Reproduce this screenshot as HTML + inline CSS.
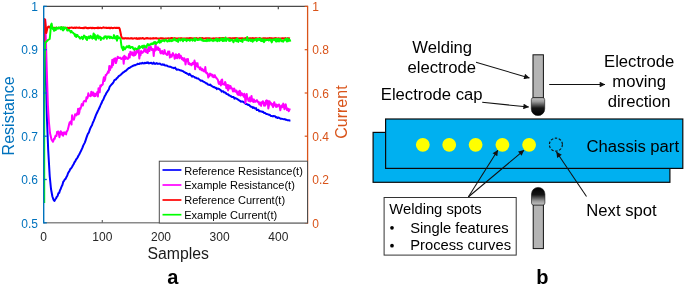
<!DOCTYPE html>
<html><head><meta charset="utf-8"><title>figure</title>
<style>html,body{margin:0;padding:0;background:#fff}body{width:685px;height:288px;position:relative;overflow:hidden;font-family:"Liberation Sans",sans-serif}</style></head>
<body>
<svg width="685" height="288" viewBox="0 0 685 288" style="position:absolute;left:0;top:0;will-change:transform;font-family:'Liberation Sans',sans-serif">
<rect width="685" height="288" fill="#fff"/>
<g fill="none" stroke-linejoin="round" stroke-linecap="butt" stroke-width="2">
<path d="M44.6,19.0 L45.3,60.0 L46.2,90.0 L47.0,120.0 L48.2,150.0 L49.7,176.0 L51.0,189.0 L52.4,196.5 L53.5,199.6 L54.4,200.9 L55.2,199.5 L56.0,198.5 L56.8,196.8 L57.6,195.9 L58.4,193.2 L59.2,192.9 L60.0,190.2 L60.8,188.7 L61.6,186.5 L62.4,185.1 L63.2,181.9 L64.0,180.8 L64.8,179.4 L65.6,178.9 L66.4,177.1 L67.2,175.7 L68.0,173.3 L68.8,171.9 L69.6,170.7 L70.4,168.8 L71.2,168.3 L72.0,167.0 L72.8,165.5 L73.6,164.3 L74.4,162.4 L75.2,161.3 L76.0,159.7 L76.8,158.6 L77.6,157.5 L78.4,155.8 L79.2,154.5 L80.0,152.9 L80.8,151.3 L81.6,149.6 L82.4,147.9 L83.2,145.6 L84.0,144.1 L84.8,142.6 L85.6,140.3 L86.4,137.9 L87.2,135.7 L88.0,133.7 L88.8,132.7 L89.6,130.2 L90.4,128.1 L91.2,126.5 L92.0,125.3 L92.8,122.8 L93.6,121.1 L94.4,119.2 L95.2,117.1 L96.0,114.9 L96.8,113.3 L97.6,111.5 L98.4,109.9 L99.2,108.2 L100.0,106.5 L100.8,104.5 L101.6,103.1 L102.4,100.8 L103.2,99.8 L104.0,97.9 L104.8,96.0 L105.6,94.7 L106.4,93.0 L107.2,91.9 L108.0,90.6 L108.8,89.5 L109.6,87.0 L110.4,85.8 L111.2,84.9 L112.0,84.0 L112.8,83.2 L113.6,81.9 L114.4,80.1 L115.2,79.8 L116.0,79.3 L116.8,78.2 L117.6,77.6 L118.4,76.5 L119.2,75.8 L120.0,75.3 L120.8,74.7 L121.6,73.9 L122.4,73.3 L123.2,72.3 L124.0,72.1 L124.8,71.3 L125.6,71.0 L126.4,70.4 L127.2,69.4 L128.0,68.7 L128.8,68.0 L129.6,67.9 L130.4,67.3 L131.2,66.7 L132.0,66.4 L132.8,65.8 L133.6,65.8 L134.4,65.1 L135.2,65.3 L136.0,64.7 L136.8,64.6 L137.6,63.8 L138.4,64.0 L139.2,64.0 L140.0,63.3 L140.8,63.4 L141.6,63.4 L142.4,62.8 L143.2,63.3 L144.0,63.4 L144.8,62.8 L145.6,63.2 L146.4,62.6 L147.2,63.0 L148.0,62.4 L148.8,63.4 L149.6,63.2 L150.4,63.0 L151.2,62.8 L152.0,63.6 L152.8,63.8 L153.6,62.6 L154.4,63.7 L155.2,63.9 L156.0,63.5 L156.8,63.1 L157.6,63.9 L158.4,63.7 L159.2,63.7 L160.0,63.6 L160.8,64.4 L161.6,64.7 L162.4,64.3 L163.2,64.9 L164.0,64.5 L164.8,65.4 L165.6,65.4 L166.4,65.5 L167.2,65.8 L168.0,66.4 L168.8,66.6 L169.6,66.7 L170.4,66.8 L171.2,67.1 L172.0,67.6 L172.8,67.7 L173.6,68.2 L174.4,68.1 L175.2,67.6 L176.0,69.1 L176.8,69.8 L177.6,69.5 L178.4,69.6 L179.2,69.9 L180.0,70.2 L180.8,70.6 L181.6,70.5 L182.4,71.1 L183.2,71.3 L184.0,72.0 L184.8,72.2 L185.6,72.9 L186.4,73.0 L187.2,73.8 L188.0,73.9 L188.8,75.0 L189.6,73.9 L190.4,74.8 L191.2,75.7 L192.0,76.6 L192.8,76.1 L193.6,76.6 L194.4,76.9 L195.2,77.8 L196.0,77.6 L196.8,78.4 L197.6,78.4 L198.4,78.5 L199.2,79.5 L200.0,80.0 L200.8,80.7 L201.6,80.6 L202.4,80.8 L203.2,81.6 L204.0,81.9 L204.8,82.4 L205.6,82.7 L206.4,83.5 L207.2,83.6 L208.0,84.6 L208.8,84.7 L209.6,85.0 L210.4,84.6 L211.2,85.8 L212.0,86.1 L212.8,86.7 L213.6,87.2 L214.4,87.1 L215.2,87.9 L216.0,87.8 L216.8,89.1 L217.6,88.4 L218.4,88.6 L219.2,89.1 L220.0,89.8 L220.8,90.1 L221.6,91.6 L222.4,91.2 L223.2,91.3 L224.0,92.6 L224.8,92.4 L225.6,92.7 L226.4,93.8 L227.2,94.2 L228.0,94.2 L228.8,95.3 L229.6,95.3 L230.4,96.2 L231.2,96.3 L232.0,97.1 L232.8,97.0 L233.6,96.9 L234.4,98.6 L235.2,98.0 L236.0,98.5 L236.8,98.7 L237.6,99.3 L238.4,99.9 L239.2,100.3 L240.0,100.8 L240.8,101.7 L241.6,101.4 L242.4,101.4 L243.2,101.9 L244.0,102.5 L244.8,102.6 L245.6,103.9 L246.4,103.9 L247.2,104.4 L248.0,104.9 L248.8,104.8 L249.6,105.5 L250.4,106.4 L251.2,106.8 L252.0,106.8 L252.8,108.0 L253.6,107.3 L254.4,108.1 L255.2,108.5 L256.0,108.0 L256.8,110.1 L257.6,109.9 L258.4,109.8 L259.2,111.2 L260.0,111.1 L260.8,111.4 L261.6,111.4 L262.4,112.0 L263.2,111.8 L264.0,112.9 L264.8,112.9 L265.6,113.4 L266.4,114.1 L267.2,114.1 L268.0,114.4 L268.8,114.7 L269.6,114.7 L270.4,115.5 L271.2,116.1 L272.0,116.1 L272.8,116.4 L273.6,116.0 L274.4,116.3 L275.2,116.3 L276.0,117.5 L276.8,117.2 L277.6,118.0 L278.4,117.5 L279.2,117.9 L280.0,118.3 L280.8,118.8 L281.6,118.7 L282.4,118.9 L283.2,119.1 L284.0,119.3 L284.8,119.1 L285.6,119.7 L286.4,119.8 L287.2,120.1 L288.0,120.4 L288.8,120.2 L289.6,120.6 L290.4,120.7" stroke="#0000ff"/>
<path d="M45.2,19.0 L46.2,50.0 L47.1,80.0 L47.9,105.0 L48.9,122.0 L50.0,133.0 L51.5,139.5 L52.9,141.8 L53.5,140.6 L54.1,138.5 L54.7,138.8 L55.3,136.2 L55.9,135.5 L56.5,135.9 L57.1,132.0 L57.7,131.7 L58.3,131.5 L58.9,134.0 L59.5,137.2 L60.1,133.2 L60.7,131.2 L61.3,134.4 L61.9,132.4 L62.5,133.5 L63.1,135.8 L63.7,132.4 L64.3,133.9 L64.9,132.4 L65.5,133.7 L66.1,134.4 L66.7,131.4 L67.3,131.0 L67.9,129.3 L68.5,126.9 L69.1,124.3 L69.7,122.2 L70.3,122.9 L70.9,121.2 L71.5,124.6 L72.1,115.2 L72.7,119.0 L73.3,118.7 L73.9,119.7 L74.5,117.4 L75.1,114.3 L75.7,115.1 L76.3,115.4 L76.9,113.2 L77.5,114.4 L78.1,108.7 L78.7,114.2 L79.3,112.6 L79.9,108.3 L80.5,108.8 L81.1,106.7 L81.7,104.1 L82.3,104.8 L82.9,105.5 L83.5,102.0 L84.1,101.1 L84.7,100.8 L85.3,100.9 L85.9,101.5 L86.5,97.2 L87.1,98.5 L87.7,97.4 L88.3,93.3 L88.9,95.5 L89.5,95.8 L90.1,95.7 L90.7,96.2 L91.3,91.7 L91.9,95.3 L92.5,93.9 L93.1,92.4 L93.7,95.9 L94.3,96.2 L94.9,93.6 L95.5,96.1 L96.1,93.8 L96.7,94.4 L97.3,92.0 L97.9,96.4 L98.5,88.2 L99.1,92.2 L99.7,92.3 L100.3,85.5 L100.9,86.7 L101.5,84.9 L102.1,85.0 L102.7,84.5 L103.3,80.3 L103.9,77.3 L104.5,81.0 L105.1,79.5 L105.7,75.0 L106.3,75.1 L106.9,73.8 L107.5,73.0 L108.1,71.3 L108.7,72.6 L109.3,66.1 L109.9,70.2 L110.5,68.1 L111.1,65.9 L111.7,67.4 L112.3,59.7 L112.9,65.3 L113.5,62.8 L114.1,58.8 L114.7,60.7 L115.3,58.3 L115.9,63.1 L116.5,61.3 L117.1,58.7 L117.7,56.7 L118.3,57.2 L118.9,58.1 L119.5,58.0 L120.1,57.6 L120.7,58.4 L121.3,59.0 L121.9,58.4 L122.5,57.9 L123.1,57.3 L123.7,63.7 L124.3,55.8 L124.9,56.4 L125.5,58.9 L126.1,57.2 L126.7,58.2 L127.3,58.6 L127.9,59.0 L128.5,57.7 L129.1,53.9 L129.7,57.6 L130.3,51.8 L130.9,54.6 L131.5,53.7 L132.1,52.4 L132.7,55.3 L133.3,53.6 L133.9,55.7 L134.5,50.8 L135.1,55.1 L135.7,54.2 L136.3,53.4 L136.9,50.2 L137.5,52.3 L138.1,49.7 L138.7,48.5 L139.3,58.5 L139.9,53.9 L140.5,55.3 L141.1,51.0 L141.7,52.9 L142.3,52.8 L142.9,52.4 L143.5,51.1 L144.1,50.5 L144.7,46.8 L145.3,51.7 L145.9,51.2 L146.5,52.3 L147.1,49.5 L147.7,53.1 L148.3,48.8 L148.9,47.1 L149.5,51.1 L150.1,48.3 L150.7,46.6 L151.3,49.0 L151.9,50.0 L152.5,48.9 L153.1,49.2 L153.7,55.9 L154.3,49.5 L154.9,50.8 L155.5,44.1 L156.1,48.7 L156.7,49.7 L157.3,47.8 L157.9,47.2 L158.5,50.0 L159.1,49.0 L159.7,48.8 L160.3,52.6 L160.9,53.5 L161.5,52.0 L162.1,50.9 L162.7,53.1 L163.3,53.9 L163.9,53.7 L164.5,49.9 L165.1,52.1 L165.7,53.6 L166.3,54.2 L166.9,55.0 L167.5,54.8 L168.1,51.4 L168.7,52.4 L169.3,51.6 L169.9,57.6 L170.5,54.7 L171.1,55.7 L171.7,56.8 L172.3,54.4 L172.9,53.1 L173.5,54.7 L174.1,55.4 L174.7,58.7 L175.3,57.7 L175.9,54.2 L176.5,57.7 L177.1,58.1 L177.7,54.9 L178.3,56.9 L178.9,53.9 L179.5,58.3 L180.1,57.3 L180.7,55.6 L181.3,57.2 L181.9,59.2 L182.5,58.0 L183.1,59.9 L183.7,60.7 L184.3,58.3 L184.9,59.5 L185.5,64.5 L186.1,60.9 L186.7,59.3 L187.3,61.3 L187.9,58.9 L188.5,63.9 L189.1,62.8 L189.7,64.4 L190.3,64.4 L190.9,63.8 L191.5,65.3 L192.1,64.2 L192.7,62.9 L193.3,62.6 L193.9,64.1 L194.5,60.6 L195.1,69.2 L195.7,62.8 L196.3,66.3 L196.9,64.3 L197.5,63.2 L198.1,67.2 L198.7,67.1 L199.3,67.7 L199.9,69.3 L200.5,67.4 L201.1,69.6 L201.7,70.2 L202.3,68.9 L202.9,69.4 L203.5,71.3 L204.1,70.8 L204.7,71.5 L205.3,67.1 L205.9,72.2 L206.5,73.3 L207.1,72.8 L207.7,74.2 L208.3,77.6 L208.9,74.6 L209.5,76.1 L210.1,73.6 L210.7,74.0 L211.3,75.1 L211.9,74.5 L212.5,76.8 L213.1,75.5 L213.7,77.3 L214.3,75.3 L214.9,75.3 L215.5,77.6 L216.1,77.2 L216.7,78.4 L217.3,78.9 L217.9,79.9 L218.5,82.9 L219.1,84.0 L219.7,83.2 L220.3,81.5 L220.9,85.4 L221.5,80.0 L222.1,79.5 L222.7,84.2 L223.3,84.0 L223.9,84.1 L224.5,84.8 L225.1,82.0 L225.7,83.3 L226.3,88.2 L226.9,88.1 L227.5,85.1 L228.1,90.5 L228.7,85.2 L229.3,86.5 L229.9,88.5 L230.5,86.0 L231.1,87.7 L231.7,88.7 L232.3,88.6 L232.9,91.4 L233.5,91.3 L234.1,88.4 L234.7,89.6 L235.3,91.7 L235.9,91.6 L236.5,90.6 L237.1,93.3 L237.7,94.4 L238.3,92.0 L238.9,95.0 L239.5,90.8 L240.1,91.1 L240.7,95.5 L241.3,93.3 L241.9,93.3 L242.5,95.0 L243.1,94.6 L243.7,96.8 L244.3,93.7 L244.9,96.0 L245.5,103.0 L246.1,97.5 L246.7,93.9 L247.3,98.9 L247.9,99.1 L248.5,100.9 L249.1,98.8 L249.7,97.5 L250.3,101.6 L250.9,100.5 L251.5,95.9 L252.1,101.0 L252.7,99.3 L253.3,102.0 L253.9,99.4 L254.5,101.7 L255.1,100.8 L255.7,101.7 L256.3,100.7 L256.9,100.1 L257.5,101.2 L258.1,102.4 L258.7,102.1 L259.3,104.5 L259.9,102.4 L260.5,103.0 L261.1,105.9 L261.7,102.2 L262.3,103.2 L262.9,101.2 L263.5,102.5 L264.1,105.7 L264.7,103.3 L265.3,105.6 L265.9,101.0 L266.5,100.4 L267.1,103.8 L267.7,100.7 L268.3,108.5 L268.9,105.9 L269.5,101.3 L270.1,103.4 L270.7,102.8 L271.3,104.7 L271.9,103.9 L272.5,105.9 L273.1,107.1 L273.7,103.9 L274.3,102.2 L274.9,105.6 L275.5,104.4 L276.1,107.0 L276.7,104.6 L277.3,106.6 L277.9,105.7 L278.5,104.8 L279.1,104.5 L279.7,106.8 L280.3,110.3 L280.9,107.2 L281.5,105.5 L282.1,107.2 L282.7,106.1 L283.3,103.6 L283.9,106.7 L284.5,109.2 L285.1,105.7 L285.7,104.3 L286.3,107.5 L286.9,110.1 L287.5,108.5 L288.1,108.8 L288.7,111.3 L289.3,110.1 L289.9,108.5" stroke="#ff00ff"/>
<path d="M44.2,60.0 L44.4,19.0 L45.0,19.5 L45.5,24.0 L46.3,33.0 L47.2,29.0 L48.0,27.0 L49.0,26.5 L50.0,27.5 L50.6,28.3 L51.2,28.0 L51.8,27.9 L52.4,27.5 L53.0,27.8 L53.6,27.8 L54.2,27.9 L54.8,27.8 L55.4,27.9 L56.0,27.8 L56.6,27.6 L57.2,28.1 L57.8,28.1 L58.4,28.3 L59.0,27.9 L59.6,27.8 L60.2,27.8 L60.8,27.6 L61.4,28.1 L62.0,27.7 L62.6,27.6 L63.2,27.9 L63.8,28.2 L64.4,28.0 L65.0,27.7 L65.6,27.7 L66.2,28.0 L66.8,27.9 L67.4,27.7 L68.0,27.8 L68.6,28.1 L69.2,28.3 L69.8,27.6 L70.4,27.8 L71.0,27.7 L71.6,27.4 L72.2,27.7 L72.8,27.7 L73.4,28.1 L74.0,27.9 L74.6,27.5 L75.2,28.0 L75.8,27.8 L76.4,27.5 L77.0,27.8 L77.6,27.8 L78.2,27.7 L78.8,27.9 L79.4,27.4 L80.0,27.8 L80.6,28.1 L81.2,28.1 L81.8,28.1 L82.4,28.1 L83.0,28.2 L83.6,27.7 L84.2,28.1 L84.8,27.5 L85.4,27.8 L86.0,27.5 L86.6,28.1 L87.2,28.2 L87.8,27.9 L88.4,28.3 L89.0,27.8 L89.6,27.9 L90.2,27.9 L90.8,27.7 L91.4,28.0 L92.0,28.3 L92.6,27.7 L93.2,28.1 L93.8,27.9 L94.4,28.3 L95.0,28.0 L95.6,28.0 L96.2,28.0 L96.8,28.0 L97.4,27.6 L98.0,28.2 L98.6,27.6 L99.2,28.0 L99.8,28.0 L100.4,27.7 L101.0,27.9 L101.6,28.2 L102.2,27.9 L102.8,27.7 L103.4,27.3 L104.0,27.7 L104.6,27.8 L105.2,27.8 L105.8,27.7 L106.4,28.0 L107.0,27.8 L107.6,27.9 L108.2,28.0 L108.8,27.7 L109.4,27.8 L110.0,28.4 L110.6,28.1 L111.2,27.6 L111.8,27.9 L112.4,28.0 L113.0,28.2 L113.6,27.9 L114.2,27.8 L114.8,27.7 L115.4,28.0 L116.0,28.0 L116.6,27.8 L117.2,27.9 L117.8,27.8 L118.4,28.1 L119.0,27.7 L119.6,28.5 L120.4,32.0 L121.2,36.0 L122.0,38.0 L122.6,38.4 L123.2,38.5 L123.8,38.2 L124.4,38.6 L125.0,38.3 L125.6,38.1 L126.2,38.3 L126.8,38.5 L127.4,38.5 L128.0,38.1 L128.6,38.5 L129.2,38.4 L129.8,38.5 L130.4,38.5 L131.0,38.1 L131.6,38.5 L132.2,38.3 L132.8,38.7 L133.4,38.6 L134.0,38.4 L134.6,38.2 L135.2,38.4 L135.8,38.4 L136.4,38.1 L137.0,38.9 L137.6,38.5 L138.2,38.8 L138.8,38.2 L139.4,38.8 L140.0,38.1 L140.6,38.3 L141.2,38.5 L141.8,38.4 L142.4,37.9 L143.0,38.2 L143.6,38.6 L144.2,38.9 L144.8,38.6 L145.4,38.3 L146.0,38.6 L146.6,38.1 L147.2,38.5 L147.8,38.1 L148.4,38.4 L149.0,38.4 L149.6,38.6 L150.2,38.3 L150.8,38.7 L151.4,38.4 L152.0,38.6 L152.6,38.6 L153.2,38.0 L153.8,38.4 L154.4,38.4 L155.0,38.2 L155.6,38.4 L156.2,38.1 L156.8,38.5 L157.4,38.5 L158.0,38.5 L158.6,38.9 L159.2,38.5 L159.8,38.4 L160.4,38.2 L161.0,38.5 L161.6,38.2 L162.2,38.7 L162.8,38.3 L163.4,38.4 L164.0,38.8 L164.6,38.7 L165.2,38.5 L165.8,38.7 L166.4,38.4 L167.0,38.6 L167.6,38.4 L168.2,38.2 L168.8,38.5 L169.4,38.6 L170.0,38.3 L170.6,38.2 L171.2,38.3 L171.8,37.9 L172.4,38.3 L173.0,38.2 L173.6,38.8 L174.2,38.3 L174.8,38.1 L175.4,38.6 L176.0,38.4 L176.6,38.4 L177.2,38.4 L177.8,38.4 L178.4,38.3 L179.0,38.6 L179.6,38.5 L180.2,38.3 L180.8,38.4 L181.4,38.2 L182.0,38.5 L182.6,38.6 L183.2,38.5 L183.8,38.5 L184.4,38.4 L185.0,38.7 L185.6,38.4 L186.2,38.4 L186.8,38.3 L187.4,38.4 L188.0,38.3 L188.6,38.8 L189.2,38.5 L189.8,38.0 L190.4,38.3 L191.0,38.1 L191.6,38.6 L192.2,38.7 L192.8,38.3 L193.4,38.5 L194.0,38.4 L194.6,38.5 L195.2,38.8 L195.8,38.3 L196.4,38.1 L197.0,38.6 L197.6,38.5 L198.2,38.5 L198.8,38.6 L199.4,38.3 L200.0,38.0 L200.6,38.6 L201.2,38.3 L201.8,38.1 L202.4,38.1 L203.0,38.6 L203.6,38.4 L204.2,38.5 L204.8,38.6 L205.4,38.3 L206.0,38.2 L206.6,38.2 L207.2,38.2 L207.8,38.3 L208.4,38.2 L209.0,38.4 L209.6,38.3 L210.2,38.4 L210.8,38.5 L211.4,38.7 L212.0,38.7 L212.6,38.4 L213.2,38.4 L213.8,38.3 L214.4,38.6 L215.0,38.7 L215.6,38.3 L216.2,38.6 L216.8,38.3 L217.4,38.4 L218.0,38.4 L218.6,38.3 L219.2,38.6 L219.8,38.1 L220.4,38.2 L221.0,38.4 L221.6,38.2 L222.2,38.5 L222.8,38.1 L223.4,38.4 L224.0,38.1 L224.6,38.4 L225.2,38.5 L225.8,38.9 L226.4,38.6 L227.0,38.8 L227.6,38.4 L228.2,38.9 L228.8,38.3 L229.4,38.3 L230.0,38.1 L230.6,38.4 L231.2,38.6 L231.8,38.3 L232.4,38.3 L233.0,38.3 L233.6,38.3 L234.2,38.3 L234.8,38.1 L235.4,38.7 L236.0,38.0 L236.6,38.2 L237.2,38.5 L237.8,38.6 L238.4,38.4 L239.0,38.3 L239.6,38.4 L240.2,38.3 L240.8,38.6 L241.4,38.3 L242.0,38.2 L242.6,38.3 L243.2,38.4 L243.8,38.7 L244.4,38.8 L245.0,38.3 L245.6,38.1 L246.2,38.1 L246.8,38.9 L247.4,38.3 L248.0,38.5 L248.6,38.8 L249.2,38.3 L249.8,38.4 L250.4,38.3 L251.0,38.2 L251.6,38.6 L252.2,38.6 L252.8,38.0 L253.4,38.6 L254.0,38.3 L254.6,38.4 L255.2,38.4 L255.8,38.1 L256.4,38.3 L257.0,38.2 L257.6,38.8 L258.2,38.9 L258.8,38.4 L259.4,38.1 L260.0,38.7 L260.6,38.4 L261.2,38.8 L261.8,38.8 L262.4,38.8 L263.0,38.3 L263.6,38.2 L264.2,38.3 L264.8,38.4 L265.4,38.2 L266.0,38.7 L266.6,38.5 L267.2,38.4 L267.8,38.3 L268.4,38.5 L269.0,38.7 L269.6,38.0 L270.2,38.5 L270.8,38.3 L271.4,38.2 L272.0,38.3 L272.6,38.4 L273.2,38.8 L273.8,38.4 L274.4,38.3 L275.0,38.1 L275.6,38.6 L276.2,38.2 L276.8,38.4 L277.4,38.6 L278.0,38.4 L278.6,38.3 L279.2,38.4 L279.8,38.6 L280.4,38.4 L281.0,38.5 L281.6,38.5 L282.2,38.3 L282.8,38.5 L283.4,38.3 L284.0,38.6 L284.6,38.5 L285.2,38.0 L285.8,38.4 L286.4,38.6 L287.0,38.4 L287.6,38.3 L288.2,38.6 L288.8,38.2 L289.4,38.4 L290.0,38.5" stroke="#ff0000"/>
<path d="M44.2,203.0 L44.2,120.0 L44.5,60.0 L45.1,43.0 L46.5,41.5 L48.0,40.0 L49.7,39.0 L50.3,33.0 L51.0,25.0 L51.6,23.6 L52.2,27.0 L52.8,28.9 L53.4,28.2 L54.0,30.9 L54.6,28.2 L55.2,28.6 L55.8,30.1 L56.4,27.6 L57.0,27.9 L57.6,28.7 L58.2,28.2 L58.8,27.3 L59.4,28.3 L60.0,28.1 L60.6,29.1 L61.2,26.9 L61.8,27.8 L62.4,29.7 L63.0,30.5 L63.6,27.2 L64.2,29.4 L64.8,27.8 L65.4,28.0 L66.0,27.8 L66.6,28.5 L67.2,30.5 L67.8,30.5 L68.4,30.0 L69.0,29.9 L69.6,30.8 L70.2,31.0 L70.8,32.5 L71.4,31.0 L72.0,32.2 L72.6,32.5 L73.2,32.9 L73.8,33.7 L74.4,34.0 L75.0,35.9 L75.6,34.5 L76.2,37.0 L76.8,35.0 L77.4,35.1 L78.0,36.1 L78.6,36.7 L79.2,36.9 L79.8,38.5 L80.4,38.5 L81.0,37.9 L81.6,36.9 L82.2,37.2 L82.8,39.1 L83.4,37.6 L84.0,35.5 L84.6,36.3 L85.2,36.4 L85.8,38.7 L86.4,37.0 L87.0,40.0 L87.6,37.9 L88.2,37.2 L88.8,36.5 L89.4,38.3 L90.0,36.7 L90.6,35.9 L91.2,37.8 L91.8,37.0 L92.4,38.6 L93.0,37.0 L93.6,33.4 L94.2,38.1 L94.8,34.7 L95.4,39.2 L96.0,39.6 L96.6,36.7 L97.2,35.7 L97.8,35.4 L98.4,38.4 L99.0,37.0 L99.6,36.5 L100.2,37.0 L100.8,40.0 L101.4,37.8 L102.0,38.3 L102.6,38.3 L103.2,38.6 L103.8,38.7 L104.4,36.4 L105.0,37.0 L105.6,36.3 L106.2,36.4 L106.8,38.8 L107.4,36.6 L108.0,37.2 L108.6,36.4 L109.2,36.5 L109.8,38.3 L110.4,36.7 L111.0,36.7 L111.6,37.9 L112.2,38.0 L112.8,38.3 L113.4,37.5 L114.0,35.1 L114.6,38.2 L115.2,38.0 L115.8,38.7 L116.4,36.3 L117.0,40.7 L117.6,35.9 L118.2,38.4 L118.8,37.6 L119.4,37.4 L120.0,38.1 L120.6,39.0 L121.2,44.1 L121.8,47.8 L122.4,48.3 L123.0,50.2 L123.6,46.8 L124.2,48.1 L124.8,49.3 L125.4,48.5 L126.0,47.6 L126.6,46.6 L127.2,46.2 L127.8,47.1 L128.4,47.5 L129.0,45.8 L129.6,46.2 L130.2,48.0 L130.8,47.4 L131.4,47.1 L132.0,47.4 L132.6,47.0 L133.2,48.6 L133.8,49.2 L134.4,49.6 L135.0,48.3 L135.6,48.4 L136.2,49.0 L136.8,49.2 L137.4,48.9 L138.0,48.6 L138.6,46.9 L139.2,46.0 L139.8,48.2 L140.4,47.3 L141.0,47.2 L141.6,46.4 L142.2,45.9 L142.8,48.1 L143.4,47.1 L144.0,45.5 L144.6,46.6 L145.2,46.3 L145.8,46.3 L146.4,47.7 L147.0,45.5 L147.6,44.1 L148.2,45.1 L148.8,44.3 L149.4,45.2 L150.0,44.7 L150.6,44.6 L151.2,43.6 L151.8,44.3 L152.4,43.3 L153.0,44.0 L153.6,43.1 L154.2,42.1 L154.8,43.4 L155.4,42.1 L156.0,43.9 L156.6,42.8 L157.2,42.7 L157.8,42.2 L158.4,41.9 L159.0,39.7 L159.6,42.8 L160.2,40.8 L160.8,42.3 L161.4,40.8 L162.0,41.1 L162.6,40.9 L163.2,40.1 L163.8,40.8 L164.4,41.3 L165.0,40.4 L165.6,39.6 L166.2,40.2 L166.8,40.9 L167.4,41.6 L168.0,41.3 L168.6,40.8 L169.2,39.6 L169.8,41.2 L170.4,40.4 L171.0,40.1 L171.6,41.1 L172.2,40.8 L172.8,40.7 L173.4,39.2 L174.0,39.6 L174.6,38.6 L175.2,40.3 L175.8,40.1 L176.4,40.9 L177.0,40.3 L177.6,39.7 L178.2,41.9 L178.8,39.1 L179.4,38.8 L180.0,39.5 L180.6,40.5 L181.2,39.7 L181.8,39.6 L182.4,39.0 L183.0,41.3 L183.6,39.4 L184.2,39.0 L184.8,39.9 L185.4,39.3 L186.0,39.8 L186.6,41.2 L187.2,39.6 L187.8,40.0 L188.4,39.7 L189.0,39.8 L189.6,40.7 L190.2,40.5 L190.8,39.7 L191.4,39.2 L192.0,39.9 L192.6,40.7 L193.2,40.0 L193.8,39.9 L194.4,38.4 L195.0,40.9 L195.6,38.7 L196.2,38.8 L196.8,39.7 L197.4,40.0 L198.0,40.0 L198.6,39.3 L199.2,39.7 L199.8,39.5 L200.4,38.4 L201.0,39.8 L201.6,39.4 L202.2,40.4 L202.8,39.9 L203.4,40.9 L204.0,40.6 L204.6,40.8 L205.2,41.1 L205.8,40.6 L206.4,39.9 L207.0,41.2 L207.6,39.2 L208.2,40.0 L208.8,40.8 L209.4,39.7 L210.0,40.6 L210.6,39.3 L211.2,39.5 L211.8,40.5 L212.4,40.6 L213.0,41.1 L213.6,39.9 L214.2,40.3 L214.8,40.6 L215.4,40.4 L216.0,38.8 L216.6,39.5 L217.2,41.3 L217.8,38.9 L218.4,40.6 L219.0,39.6 L219.6,40.9 L220.2,39.3 L220.8,40.0 L221.4,38.2 L222.0,40.0 L222.6,41.0 L223.2,38.6 L223.8,41.1 L224.4,39.4 L225.0,40.0 L225.6,37.5 L226.2,41.0 L226.8,39.2 L227.4,39.5 L228.0,38.8 L228.6,39.1 L229.2,41.0 L229.8,39.5 L230.4,40.8 L231.0,39.8 L231.6,40.3 L232.2,39.5 L232.8,40.4 L233.4,42.3 L234.0,40.6 L234.6,40.5 L235.2,39.6 L235.8,40.9 L236.4,41.2 L237.0,38.5 L237.6,38.8 L238.2,41.9 L238.8,40.4 L239.4,40.1 L240.0,40.5 L240.6,41.0 L241.2,40.7 L241.8,39.8 L242.4,41.9 L243.0,40.0 L243.6,39.2 L244.2,39.5 L244.8,39.9 L245.4,39.7 L246.0,39.8 L246.6,40.3 L247.2,37.0 L247.8,39.3 L248.4,40.9 L249.0,40.5 L249.6,39.4 L250.2,39.4 L250.8,41.0 L251.4,39.8 L252.0,39.5 L252.6,41.7 L253.2,39.7 L253.8,40.6 L254.4,40.0 L255.0,40.0 L255.6,39.1 L256.2,39.3 L256.8,41.1 L257.4,39.0 L258.0,40.2 L258.6,38.9 L259.2,39.8 L259.8,40.0 L260.4,38.5 L261.0,41.0 L261.6,39.8 L262.2,41.1 L262.8,39.2 L263.4,40.8 L264.0,42.1 L264.6,40.2 L265.2,39.4 L265.8,40.4 L266.4,40.1 L267.0,39.8 L267.6,39.9 L268.2,39.5 L268.8,40.4 L269.4,39.7 L270.0,39.2 L270.6,40.7 L271.2,39.9 L271.8,42.4 L272.4,39.8 L273.0,39.4 L273.6,39.5 L274.2,40.3 L274.8,39.4 L275.4,38.9 L276.0,41.5 L276.6,38.9 L277.2,41.4 L277.8,40.1 L278.4,39.0 L279.0,41.5 L279.6,39.8 L280.2,39.1 L280.8,40.1 L281.4,41.2 L282.0,40.6 L282.6,40.7 L283.2,41.6 L283.8,40.2 L284.4,40.3 L285.0,39.8 L285.6,38.7 L286.2,39.9 L286.8,41.5 L287.4,38.4 L288.0,41.2 L288.6,40.2 L289.2,39.2 L289.8,40.1 L290.4,41.6" stroke="#00ff00"/>
</g>
<g stroke-width="1" fill="none">
<path d="M43.7,6.4 H307.6" stroke="#4a4a4a" stroke-width="1.2"/>
<path d="M43.7,222.8 H307.6" stroke="#8a8a8a" stroke-width="1.6"/>
<path d="M102.3,222.8 v-2.9" stroke="#666" stroke-width="1.2"/><path d="M102.3,6.4 v2.9" stroke="#4a4a4a" stroke-width="1.2"/>
<path d="M161.0,222.8 v-2.9" stroke="#666" stroke-width="1.2"/><path d="M161.0,6.4 v2.9" stroke="#4a4a4a" stroke-width="1.2"/>
<path d="M219.6,222.8 v-2.9" stroke="#666" stroke-width="1.2"/><path d="M219.6,6.4 v2.9" stroke="#4a4a4a" stroke-width="1.2"/>
<path d="M278.3,222.8 v-2.9" stroke="#666" stroke-width="1.2"/><path d="M278.3,6.4 v2.9" stroke="#4a4a4a" stroke-width="1.2"/>
<path d="M43.7,5.800000000000001 V223.60000000000002" stroke="#0072BD" stroke-width="1.4"/>
<path d="M307.6,5.800000000000001 V223.60000000000002" stroke="#D95319" stroke-width="1.3"/>
<path d="M43.7,222.8 h3.1" stroke="#0072BD" stroke-width="1.3"/>
<path d="M43.7,179.5 h3.1" stroke="#0072BD" stroke-width="1.3"/>
<path d="M43.7,136.2 h3.1" stroke="#0072BD" stroke-width="1.3"/>
<path d="M43.7,93.0 h3.1" stroke="#0072BD" stroke-width="1.3"/>
<path d="M43.7,49.7 h3.1" stroke="#0072BD" stroke-width="1.3"/>
<path d="M43.7,6.4 h3.1" stroke="#0072BD" stroke-width="1.3"/>
<path d="M307.6,222.8 h-2.9" stroke="#D95319" stroke-width="1.2"/>
<path d="M307.6,179.5 h-2.9" stroke="#D95319" stroke-width="1.2"/>
<path d="M307.6,136.2 h-2.9" stroke="#D95319" stroke-width="1.2"/>
<path d="M307.6,93.0 h-2.9" stroke="#D95319" stroke-width="1.2"/>
<path d="M307.6,49.7 h-2.9" stroke="#D95319" stroke-width="1.2"/>
<path d="M307.6,6.4 h-2.9" stroke="#D95319" stroke-width="1.2"/>
</g>
<g font-size="12" fill="#262626" text-anchor="middle">
<text x="43.7" y="240.9">0</text>
<text x="102.3" y="240.9">100</text>
<text x="161.0" y="240.9">200</text>
<text x="219.6" y="240.9">300</text>
<text x="278.3" y="240.9">400</text>
</g>
<g font-size="12" fill="#0072BD" text-anchor="end">
<text x="37.9" y="227.5">0.5</text>
<text x="37.9" y="184.2">0.6</text>
<text x="37.9" y="140.9">0.7</text>
<text x="37.9" y="97.7">0.8</text>
<text x="37.9" y="54.4">0.9</text>
<text x="37.9" y="11.1">1</text>
</g>
<g font-size="12" fill="#D95319" text-anchor="start">
<text x="312.3" y="227.5">0</text>
<text x="312.3" y="184.2">0.2</text>
<text x="312.3" y="140.9">0.4</text>
<text x="312.3" y="97.7">0.6</text>
<text x="312.3" y="54.4">0.8</text>
<text x="312.3" y="11.1">1</text>
</g>
<text x="178.2" y="258.7" font-size="15.8" fill="#1a1a1a" text-anchor="middle">Samples</text>
<text transform="translate(13.7,115.8) rotate(-90)" font-size="16" fill="#0072BD" text-anchor="middle">Resistance</text>
<text transform="translate(346.6,112.1) rotate(-90)" font-size="16" fill="#D95319" text-anchor="middle">Current</text>
<text x="172.7" y="284" font-size="20" font-weight="bold" fill="#000" text-anchor="middle">a</text>
<rect x="159.3" y="161.2" width="148.2" height="61.8" fill="#fff" stroke="#4d4d4d" stroke-width="1"/>
<path d="M162.5,170 H181.4" stroke="#0000ff" stroke-width="1.7"/>
<text x="184.2" y="174.6" font-size="11" fill="#000">Reference Resistance(t)</text>
<path d="M162.5,185 H181.4" stroke="#ff00ff" stroke-width="1.7"/>
<text x="184.2" y="189.3" font-size="11" fill="#000">Example Resistance(t)</text>
<path d="M162.5,200 H181.4" stroke="#ff0000" stroke-width="1.7"/>
<text x="184.2" y="204" font-size="11" fill="#000">Reference Current(t)</text>
<path d="M162.5,214.7 H181.4" stroke="#00ff00" stroke-width="1.7"/>
<text x="184.2" y="219" font-size="11" fill="#000">Example Current(t)</text>
<rect x="373.1" y="132.4" width="296.8" height="49.9" fill="#00B0F0" stroke="#0a0a0a" stroke-width="1.2"/>
<rect x="385.6" y="119" width="297.2" height="49.4" fill="#00B0F0" stroke="#0a0a0a" stroke-width="1.2"/>
<circle cx="422.8" cy="144.8" r="6.9" fill="#ffff00"/>
<circle cx="449.2" cy="144.8" r="6.9" fill="#ffff00"/>
<circle cx="475.6" cy="144.8" r="6.9" fill="#ffff00"/>
<circle cx="502.4" cy="144.8" r="6.9" fill="#ffff00"/>
<circle cx="529.1" cy="144.8" r="6.9" fill="#ffff00"/>
<circle cx="555.9" cy="144.6" r="6.5" fill="none" stroke="#111" stroke-width="1.15" stroke-dasharray="2.5,1.6"/>
<defs><linearGradient id="g1" x1="0" y1="0" x2="0" y2="1"><stop offset="0" stop-color="#c4c4c4"/><stop offset="0.22" stop-color="#9a9a9a"/><stop offset="0.58" stop-color="#151515"/><stop offset="1" stop-color="#000"/></linearGradient>
<linearGradient id="g2" x1="0" y1="1" x2="0" y2="0"><stop offset="0" stop-color="#c4c4c4"/><stop offset="0.22" stop-color="#9a9a9a"/><stop offset="0.58" stop-color="#151515"/><stop offset="1" stop-color="#000"/></linearGradient>
<marker id="ah" viewBox="0 0 10 10" refX="9.5" refY="5" markerUnits="userSpaceOnUse" markerWidth="6.6" markerHeight="5.6" orient="auto"><path d="M0,0 L10,5 L0,10 z" fill="#111"/></marker></defs>
<rect x="533" y="54.8" width="10.4" height="43" fill="#b4b4b4" stroke="#111" stroke-width="1"/>
<path d="M531.3,99.7 a2,2 0 0 1 2,-2 h9.4 a2,2 0 0 1 2,2 v9.2 a6.7,6.7 0 0 1 -13.4,0 z" fill="url(#g1)" stroke="#111" stroke-width="0.6"/>
<rect x="533.2" y="204.8" width="10.2" height="43.8" fill="#b4b4b4" stroke="#111" stroke-width="1"/>
<path d="M531.5,203 a2,2 0 0 0 2,2 h9.4 a2,2 0 0 0 2,-2 v-8.9 a6.7,6.7 0 0 0 -13.4,0 z" fill="url(#g2)" stroke="#111" stroke-width="0.6"/>
<g stroke="#111" stroke-width="1.05" fill="none" marker-end="url(#ah)">
<path d="M476,62.3 L529.4,78"/>
<path d="M482.2,102.3 L528.7,107"/>
<path d="M549.2,84.5 L605,84.5"/>
<path d="M468.3,197 L497.8,150.3"/>
<path d="M468.3,197 L523.9,150.3"/>
<path d="M586.5,196.5 L556.5,152"/>
</g>
<g font-size="16.65" fill="#000" text-anchor="middle">
<text x="442.2" y="53.4">Welding</text>
<text x="441.7" y="73.3">electrode</text>
<text x="431.7" y="99.9">Electrode cap</text>
<text x="639.2" y="67">Electrode</text>
<text x="639.2" y="86.8">moving</text>
<text x="639.1" y="106.6">direction</text>
<text x="632.8" y="152.1">Chassis part</text>
<text x="621.5" y="215.9">Next spot</text>
</g>
<rect x="384.1" y="197.5" width="132.1" height="57.6" fill="#fff" stroke="#333" stroke-width="1"/>
<g font-size="14.75" fill="#000">
<text x="389.3" y="214.4">Welding spots</text>
<circle cx="392" cy="227.8" r="1.85"/><text x="410.2" y="232.7">Single features</text>
<circle cx="392" cy="245.7" r="1.85"/><text x="410.2" y="250.2">Process curves</text>
</g>
<text x="542.3" y="284" font-size="20" font-weight="bold" fill="#000" text-anchor="middle">b</text>
</svg>
</body></html>
